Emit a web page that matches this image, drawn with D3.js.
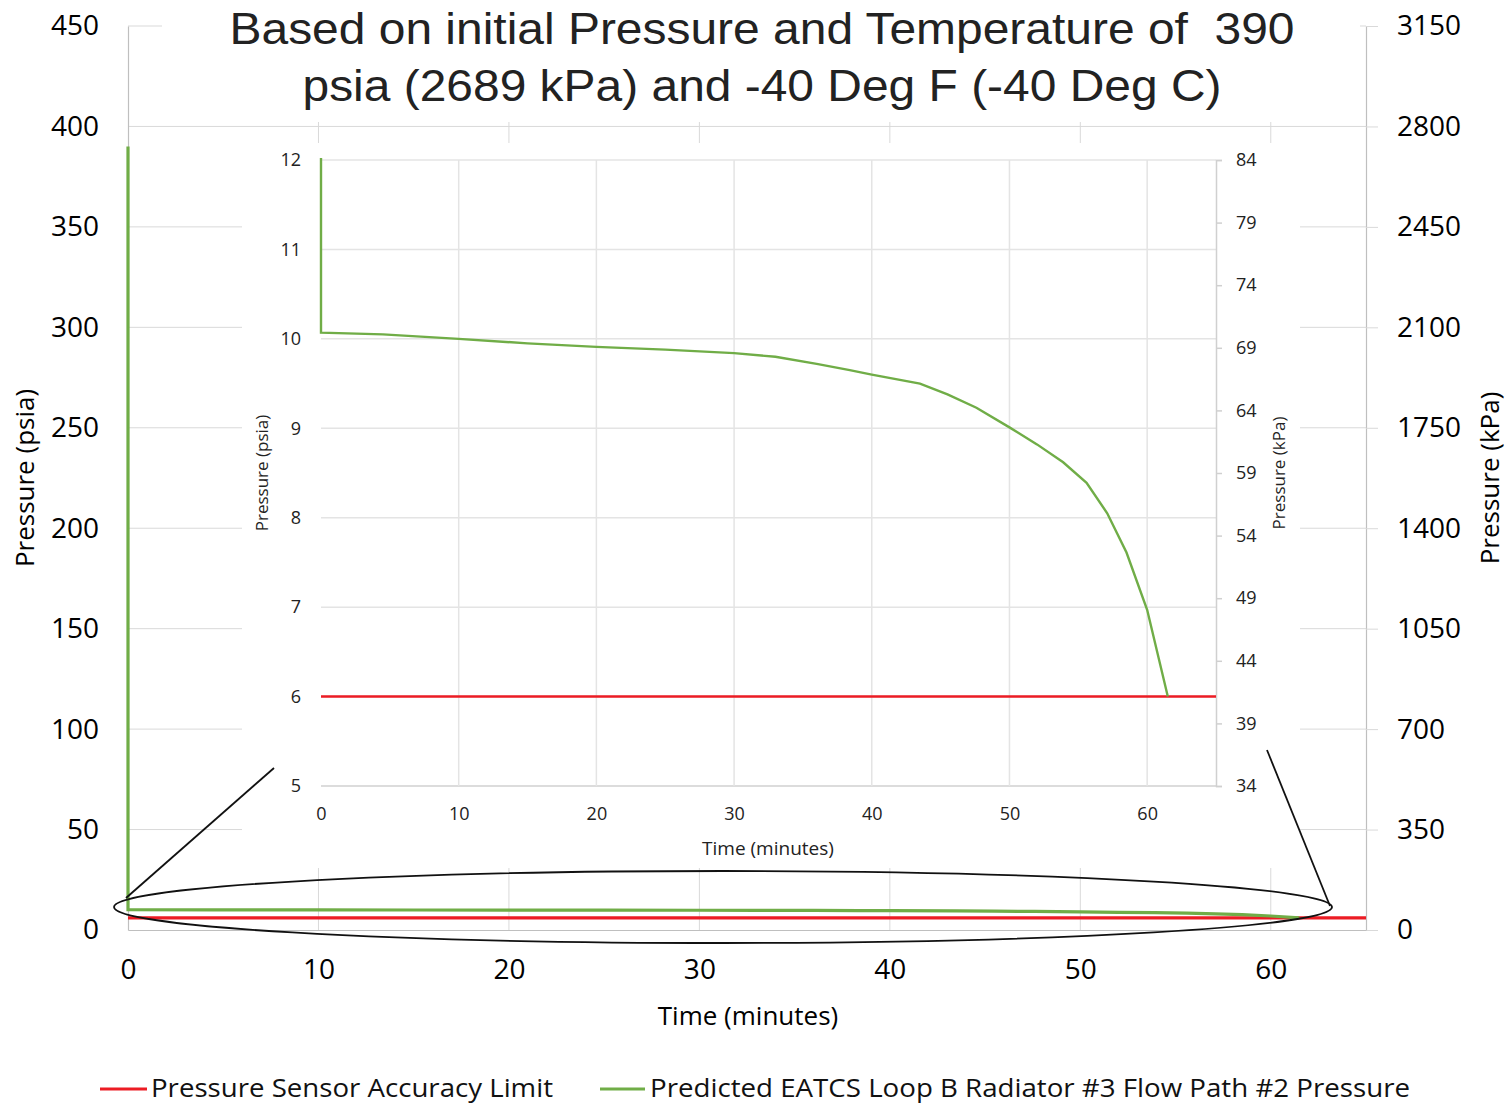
<!DOCTYPE html>
<html>
<head>
<meta charset="utf-8">
<script src="https://cdn.jsdelivr.net/npm/d3@7"></script>
<style>
  html, body { margin: 0; padding: 0; background: #fff; }
  svg { display: block; }
</style>
</head>
<body>
<svg id="chart" width="1509" height="1105"></svg>
<script>
// ---------------- DATA ----------------
const titleLines = [
  "Based on initial Pressure and Temperature of  390",
  "psia (2689 kPa) and -40 Deg F (-40 Deg C)"
];
// Predicted EATCS Loop B Radiator #3 Flow Path #2 Pressure
const timeMin = [0, 0, 4.5, 10, 15, 20, 25, 30, 33, 36, 38.4, 40, 43.5, 45.5, 47.6, 50, 52, 53.9, 55.6, 57.1, 58.5, 60, 61.5];
const pressurePsia = [390, 10.07, 10.05, 10.0, 9.95, 9.91, 9.88, 9.84, 9.80, 9.72, 9.65, 9.60, 9.50, 9.38, 9.23, 9.01, 8.82, 8.62, 8.39, 8.05, 7.61, 6.97, 6.0];
// Pressure Sensor Accuracy Limit
const limitTime = [0, 65];
const limitPsia = [6, 6];

const mainXTicks = [0, 10, 20, 30, 40, 50, 60];
const mainPsiaTicks = [0, 50, 100, 150, 200, 250, 300, 350, 400, 450];
const mainKpaTicks = [0, 350, 700, 1050, 1400, 1750, 2100, 2450, 2800, 3150];
const insetXTicks = [0, 10, 20, 30, 40, 50, 60];
const insetPsiaTicks = [5, 6, 7, 8, 9, 10, 11, 12];
const insetKpaTicks = [34, 39, 44, 49, 54, 59, 64, 69, 74, 79, 84];

const seriesNames = ["Pressure Sensor Accuracy Limit", "Predicted EATCS Loop B Radiator #3 Flow Path #2 Pressure"];
const seriesColors = ["#ec1c24", "#70ad47"];

// ---------------- SETUP ----------------
const svg = d3.select("#chart");
const FONT = "'Open Sans', 'Noto Sans', sans-serif";
const GRID = "#d9d9d9";
const fmt = d3.format("d");

const greenData = timeMin.map((t, i) => ({ t, p: pressurePsia[i] }));
const redData = limitTime.map((t, i) => ({ t, p: limitPsia[i] }));

// Main scales
const x = d3.scaleLinear().domain([0, 65]).range([128, 1366]);
const y = d3.scaleLinear().domain([0, 450]).range([930, 26]);
const yK = d3.scaleLinear().domain([0, 3150]).range([930, 26]);

// Main gridlines
const g = svg.append("g");
g.selectAll("line.hg").data(mainPsiaTicks.filter(d => d > 0)).join("line")
  .attr("x1", x(0)).attr("x2", x(65))
  .attr("y1", d => y(d)).attr("y2", d => y(d))
  .attr("stroke", GRID).attr("stroke-width", 1);
g.selectAll("line.vg").data(mainXTicks.filter(d => d > 0)).join("line")
  .attr("x1", d => x(d)).attr("x2", d => x(d))
  .attr("y1", y(450)).attr("y2", y(0))
  .attr("stroke", GRID).attr("stroke-width", 1);

// Main axes
const axL = svg.append("g").attr("transform", `translate(${x(0)},0)`)
  .call(d3.axisLeft(y).tickValues(mainPsiaTicks).tickFormat(fmt).tickSize(0).tickPadding(29));
const axR = svg.append("g").attr("transform", `translate(${x(65)},0)`)
  .call(d3.axisRight(yK).tickValues(mainKpaTicks).tickFormat(fmt).tickSize(12).tickPadding(19));
const axB = svg.append("g").attr("transform", `translate(0,${y(0)})`)
  .call(d3.axisBottom(x).tickValues(mainXTicks).tickFormat(fmt).tickSize(0).tickPadding(29));
[axL, axR, axB].forEach(a => {
  a.select(".domain").attr("stroke", "#bfbfbf").attr("stroke-width", 1.2);
  a.selectAll(".tick line").attr("stroke", GRID);
  a.selectAll("text").attr("font-family", FONT).attr("font-size", 28).attr("fill", "#000");
});

// Main lines
const lineMain = d3.line().x(d => x(d.t)).y(d => y(d.p));
svg.append("path").datum(redData).attr("d", lineMain)
  .attr("fill", "none").attr("stroke", seriesColors[0]).attr("stroke-width", 3.2);
svg.append("path").datum(greenData).attr("d", lineMain)
  .attr("fill", "none").attr("stroke", seriesColors[1]).attr("stroke-width", 3.2);

// Main axis titles
svg.append("text").attr("transform", "translate(34,478) rotate(-90)")
  .attr("text-anchor", "middle").attr("font-family", FONT).attr("font-size", 26)
  .text("Pressure (psia)");
svg.append("text").attr("transform", "translate(1499,478) rotate(-90)")
  .attr("text-anchor", "middle").attr("font-family", FONT).attr("font-size", 26)
  .text("Pressure (kPa)");
svg.append("text").attr("x", 748).attr("y", 1025)
  .attr("text-anchor", "middle").attr("font-family", FONT).attr("font-size", 26)
  .text("Time (minutes)");

// Title with white backing
svg.append("rect").attr("x", 162).attr("y", 0).attr("width", 1198).attr("height", 122).attr("fill", "#fff");
svg.append("text").attr("x", 762).attr("y", 44).attr("text-anchor", "middle")
  .style("white-space", "pre")
  .attr("font-family", "'Liberation Sans', Arial, sans-serif").attr("font-size", 44)
  .attr("textLength", 1065).attr("lengthAdjust", "spacingAndGlyphs").attr("fill", "#222")
  .text(titleLines[0]);
svg.append("text").attr("x", 762).attr("y", 101).attr("text-anchor", "middle")
  .style("white-space", "pre")
  .attr("font-family", "'Liberation Sans', Arial, sans-serif").attr("font-size", 44)
  .attr("textLength", 919).attr("lengthAdjust", "spacingAndGlyphs").attr("fill", "#222")
  .text(titleLines[1]);

// ---------------- INSET ----------------
svg.append("rect").attr("x", 242).attr("y", 143).attr("width", 1058).attr("height", 725).attr("fill", "#fff");

const xi = d3.scaleLinear().domain([0, 65]).range([321, 1216]);
const yi = d3.scaleLinear().domain([5, 12]).range([786, 160]);
const yiK = d3.scaleLinear().domain([34, 84]).range([786, 160]);
const GRIDI = "#e4e4e4";

const gi = svg.append("g");
gi.selectAll("line.h").data(insetPsiaTicks).join("line")
  .attr("x1", xi(0)).attr("x2", xi(65))
  .attr("y1", d => yi(d)).attr("y2", d => yi(d))
  .attr("stroke", d => d === 5 ? "#d0d0d0" : GRIDI).attr("stroke-width", 1.5);
gi.selectAll("line.v").data(insetXTicks.filter(d => d > 0)).join("line")
  .attr("x1", d => xi(d)).attr("x2", d => xi(d))
  .attr("y1", yi(12)).attr("y2", yi(5))
  .attr("stroke", GRIDI).attr("stroke-width", 1.5);

const aiL = svg.append("g").attr("transform", `translate(${xi(0)},0)`)
  .call(d3.axisLeft(yi).tickValues(insetPsiaTicks).tickFormat(fmt).tickSize(0).tickPadding(20));
aiL.select(".domain").remove();
const aiR = svg.append("g").attr("transform", `translate(${xi(65)},0)`)
  .call(d3.axisRight(yiK).tickValues(insetKpaTicks).tickFormat(fmt).tickSize(6).tickPadding(14));
aiR.select(".domain").attr("stroke", "#d0d0d0").attr("stroke-width", 1.5);
aiR.selectAll(".tick line").attr("stroke", "#d0d0d0").attr("stroke-width", 1.5);
const aiB = svg.append("g").attr("transform", `translate(0,${yi(5)})`)
  .call(d3.axisBottom(xi).tickValues(insetXTicks).tickFormat(fmt).tickSize(0).tickPadding(21));
aiB.select(".domain").remove();
[aiL, aiR, aiB].forEach(a => a.selectAll("text")
  .attr("font-family", FONT).attr("font-size", 18).attr("fill", "#222"));

svg.append("defs").append("clipPath").attr("id", "insetClip")
  .append("rect").attr("x", xi(0) - 3).attr("y", yi(12) - 2)
  .attr("width", xi(65) - xi(0) + 3).attr("height", yi(5) - yi(12) + 2);

const lineInset = d3.line().x(d => xi(d.t)).y(d => yi(d.p));
const gl = svg.append("g").attr("clip-path", "url(#insetClip)");
gl.append("path").datum(redData).attr("d", lineInset)
  .attr("fill", "none").attr("stroke", seriesColors[0]).attr("stroke-width", 2.6);
gl.append("path").datum(greenData).attr("d", lineInset)
  .attr("fill", "none").attr("stroke", seriesColors[1]).attr("stroke-width", 2.4);

svg.append("text").attr("transform", "translate(268,473) rotate(-90)")
  .attr("text-anchor", "middle").attr("font-family", FONT).attr("font-size", 17).attr("fill", "#222")
  .text("Pressure (psia)");
svg.append("text").attr("transform", "translate(1285,473) rotate(-90)")
  .attr("text-anchor", "middle").attr("font-family", FONT).attr("font-size", 17).attr("fill", "#222")
  .text("Pressure (kPa)");
svg.append("text").attr("x", 768).attr("y", 855)
  .attr("text-anchor", "middle").attr("font-family", FONT).attr("font-size", 19).attr("fill", "#222")
  .text("Time (minutes)");

// ---------------- ZOOM CALLOUT ----------------
svg.append("ellipse").attr("cx", 723).attr("cy", 907).attr("rx", 609).attr("ry", 36)
  .attr("fill", "none").attr("stroke", "#111").attr("stroke-width", 1.8);
svg.append("line").attr("x1", 126).attr("y1", 898).attr("x2", 274).attr("y2", 768)
  .attr("stroke", "#111").attr("stroke-width", 1.8);
svg.append("line").attr("x1", 1330).attr("y1", 906).attr("x2", 1267).attr("y2", 750)
  .attr("stroke", "#111").attr("stroke-width", 1.8);

// ---------------- LEGEND ----------------
const legend = [
  { name: seriesNames[0], color: seriesColors[0], x1: 100, x2: 147, tx: 151, len: 402 },
  { name: seriesNames[1], color: seriesColors[1], x1: 600, x2: 645, tx: 650, len: 760 }
];
const lg = svg.append("g").selectAll("g").data(legend).join("g");
lg.append("line").attr("x1", d => d.x1).attr("x2", d => d.x2).attr("y1", 1089).attr("y2", 1089)
  .attr("stroke", d => d.color).attr("stroke-width", 3.2);
lg.append("text").attr("x", d => d.tx).attr("y", 1097)
  .attr("font-family", FONT).attr("font-size", 25).attr("fill", "#111")
  .attr("textLength", d => d.len).attr("lengthAdjust", "spacingAndGlyphs")
  .text(d => d.name);
</script>
</body>
</html>
